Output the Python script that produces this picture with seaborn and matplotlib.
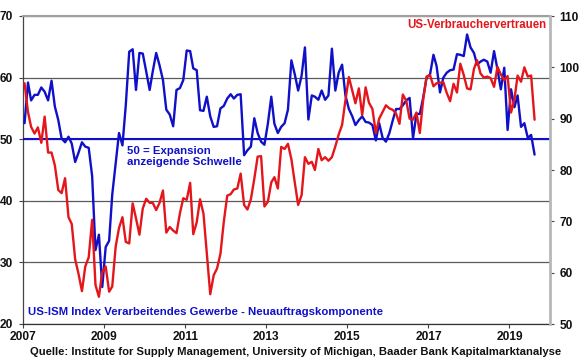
import numpy as np
import pandas as pd
import matplotlib
matplotlib.use("Agg")
import matplotlib.pyplot as plt
import matplotlib.dates as mdates
import seaborn as sns

# ================= DATA (monthly, Jan 2007 - Aug 2019) =================
ism_new_orders = [
    52.6, 59.2, 56.3, 57.2, 57.2, 58.4, 57.7, 56.3, 59.5, 55.3, 53.1, 50.1,  # 2007
    49.5, 50.4, 49.3, 46.3, 47.8, 49.5, 48.8, 48.6, 44.0, 32.0, 34.5, 26.0,  # 2008
    32.5, 33.5, 41.0, 46.0, 51.0, 49.0, 55.5, 64.2, 64.6, 58.0, 64.0, 63.9,  # 2009
    61.0, 58.0, 61.0, 64.0, 62.0, 59.6, 54.8, 54.0, 52.1, 58.0, 58.3, 59.6,  # 2010
    64.4, 64.3, 61.5, 61.2, 54.7, 54.6, 56.9, 53.7, 52.0, 52.1, 55.0, 55.4,  # 2011
    56.6, 57.3, 56.6, 57.2, 57.3, 47.4, 48.2, 48.8, 53.4, 51.0, 49.6, 49.1,  # 2012
    52.5, 56.9, 52.5, 51.0, 52.0, 52.6, 54.8, 62.8, 60.5, 57.9, 60.3, 64.9,  # 2013
    53.2, 57.1, 56.9, 56.4, 57.9, 56.4, 57.1, 64.7, 57.9, 60.8, 62.1, 57.1,  # 2014
    54.9, 53.7, 52.3, 53.1, 53.7, 52.8, 52.7, 52.3, 49.8, 52.6, 50.2, 49.6,  # 2015
    51.0, 53.1, 54.9, 54.9, 55.5, 56.3, 56.7, 50.2, 54.1, 54.1, 56.8, 60.0,  # 2016
    60.5, 63.7, 61.9, 57.6, 60.0, 60.8, 61.2, 61.3, 63.8, 63.7, 63.5, 67.0,  # 2017
    64.9, 64.0, 62.1, 62.6, 62.9, 62.6, 60.8, 64.3, 61.3, 58.1, 61.6, 51.5,  # 2018
    58.1, 55.2, 57.1, 52.0, 52.6, 50.2, 50.7, 47.5,                          # 2019
]
consumer_sentiment = [
    96.9, 91.3, 88.4, 87.1, 88.3, 85.3, 90.4, 83.4, 83.4, 80.9, 76.1, 75.5,
    78.4, 70.8, 69.5, 62.6, 59.8, 56.4, 61.2, 63.0, 70.3, 57.6, 55.3, 60.1,
    61.2, 56.3, 57.3, 65.1, 68.7, 70.8, 66.0, 65.7, 73.5, 70.6, 67.4, 72.5,
    74.4, 73.6, 73.6, 72.2, 73.6, 76.0, 67.8, 68.9, 68.2, 67.7, 71.6, 74.5,
    74.2, 77.5, 67.5, 69.8, 74.3, 71.5, 63.7, 55.8, 59.5, 60.8, 63.7, 69.9,
    75.0, 75.3, 76.2, 76.4, 79.3, 73.2, 72.3, 74.3, 78.3, 82.6, 82.7, 72.9,
    73.8, 77.6, 78.6, 76.4, 84.5, 84.1, 85.1, 82.1, 77.5, 73.2, 75.1, 82.5,
    81.2, 81.6, 80.0, 84.1, 81.9, 82.5, 81.8, 82.5, 84.6, 86.9, 88.8, 93.6,
    98.1, 95.4, 93.0, 95.9, 90.7, 96.1, 93.1, 91.9, 87.2, 90.0, 91.3, 92.6,
    92.0, 91.7, 91.0, 89.0, 94.7, 93.5, 90.0, 89.8, 91.2, 87.2, 93.8, 98.2,
    98.5, 96.3, 96.9, 97.0, 97.1, 95.0, 93.4, 96.8, 95.1, 100.7, 98.5, 95.9,
    95.7, 99.7, 101.4, 98.8, 98.0, 98.2, 97.9, 96.2, 100.1, 98.6, 97.5, 98.3,
    91.2, 93.8, 98.4, 97.2, 100.0, 98.2, 98.4, 89.8,
]
x_tick_years = ["2007", "2009", "2011", "2013", "2015", "2017", "2019"]
left_ticks = [20, 30, 40, 50, 60, 70]
right_ticks = [50, 60, 70, 80, 90, 100, 110]
threshold = 50

BLUE = "#1010c8"
RED = "#e4161b"

# ================= FRAME =================
dates = pd.date_range("2007-01-01", periods=len(ism_new_orders), freq="MS") + pd.Timedelta(days=14)
df = pd.DataFrame({"date": dates, "ism": ism_new_orders, "umich": consumer_sentiment})

sns.set_style("white")
plt.rcParams["font.family"] = ["Liberation Sans", "DejaVu Sans"]
plt.rcParams["font.weight"] = "bold"

fig = plt.figure(figsize=(5.8, 3.59), dpi=100)
ax = fig.add_axes([23 / 580, 1 - 324 / 359, 527 / 580, 308 / 359])
ax2 = ax.twinx()

ax.set_yticks(left_ticks)
ax.set_ylim(20, 70)
ax.grid(axis="y", color="#5a5a5a", linewidth=0.9)
ax.grid(axis="x", visible=False)
ax.axhline(threshold, color=BLUE, linewidth=1.5, zorder=3)

sns.lineplot(data=df, x="date", y="ism", ax=ax, color=BLUE, linewidth=1.7, zorder=4)
sns.lineplot(data=df, x="date", y="umich", ax=ax2, color=RED, linewidth=1.7)

ax2.set_ylim(50, 110)
ax2.set_yticks(right_ticks)

xt = pd.to_datetime([f"{y}-01-01" for y in x_tick_years])
ax.set_xlim(pd.Timestamp("2007-01-01"), pd.Timestamp("2020-01-01"))
ax.set_xticks(xt)
ax.xaxis.set_major_formatter(mdates.DateFormatter("%Y"))

for a in (ax, ax2):
    a.set_xlabel("")
    a.set_ylabel("")
    a.tick_params(labelsize=8.6, length=3, width=0.8, color="#444444", pad=3)
    for s in a.spines.values():
        s.set_visible(False)

ax.tick_params(axis="y", left=True, pad=4)
ax.tick_params(axis="x", bottom=True, pad=2)
ax2.tick_params(axis="y", right=True, pad=4)
ax.spines["left"].set_visible(True)
ax.spines["left"].set_color("#444444")
ax.spines["left"].set_linewidth(0.9)
ax.spines["bottom"].set_visible(True)
ax.spines["bottom"].set_color("#333333")
ax.spines["bottom"].set_linewidth(0.9)
ax.spines["top"].set_visible(True)
ax.spines["top"].set_color("#a0a0a0")
ax.spines["top"].set_linewidth(1.5)
ax2.spines["right"].set_visible(True)
ax2.spines["right"].set_color("#b8b8b8")
ax2.spines["right"].set_linewidth(2.0)

for lbl in ax.get_xticklabels() + ax.get_yticklabels() + ax2.get_yticklabels():
    lbl.set_fontweight("bold")
    lbl.set_color("#111111")

# ================= LABELS =================
ax.text(pd.Timestamp("2019-11-25"), 68.5, "US-Verbrauchervertrauen", color=RED,
        fontsize=8.3, fontweight="bold", ha="right", va="center")
ax.text(pd.Timestamp("2009-07-25"), 47.2, "50 = Expansion\nanzeigende Schwelle", color=BLUE,
        fontsize=8.2, fontweight="bold", ha="left", va="center", linespacing=1.2)
ax.text(pd.Timestamp("2007-02-15"), 21.9, "US-ISM Index Verarbeitendes Gewerbe - Neuauftragskomponente",
        color=BLUE, fontsize=8.2, fontweight="bold", ha="left", va="center")
fig.text(30 / 580, 1 - 352 / 359,
         "Quelle: Institute for Supply Management, University of Michigan, Baader Bank Kapitalmarktanalyse",
         fontsize=8.1, fontweight="bold", color="#111111", ha="left", va="center")

fig.savefig("out.png", dpi=100)
